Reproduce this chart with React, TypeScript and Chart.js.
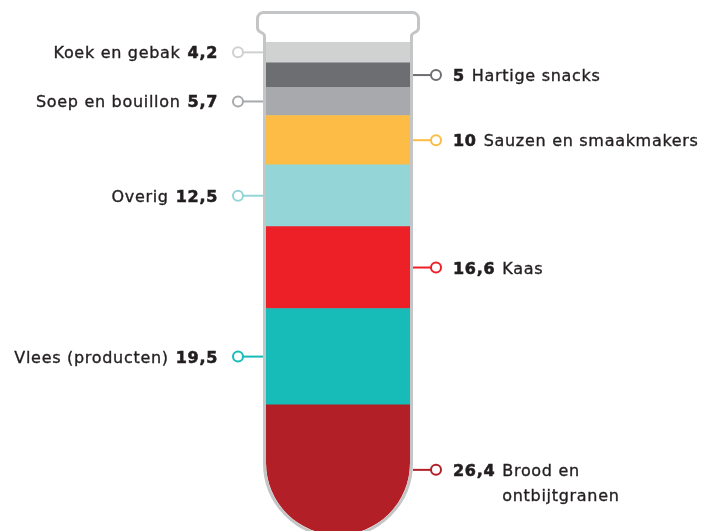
import React, { useEffect, useRef } from "react";
import { Chart, registerables } from "chart.js";

Chart.register(...registerables);

// Stack order: bottom to top
const groups = [
  "Brood en ontbijtgranen",
  "Vlees (producten)",
  "Kaas",
  "Overig",
  "Sauzen en smaakmakers",
  "Soep en bouillon",
  "Hartige snacks",
  "Koek en gebak",
];
const values = [26.4, 19.5, 16.6, 12.5, 10, 5.7, 5, 4.2];
const valueLabels = ["26,4", "19,5", "16,6", "12,5", "10", "5,7", "5", "4,2"];
const labelLines = [
  ["Brood en", "ontbijtgranen"],
  ["Vlees (producten)"],
  ["Kaas"],
  ["Overig"],
  ["Sauzen en smaakmakers"],
  ["Soep en bouillon"],
  ["Hartige snacks"],
  ["Koek en gebak"],
];
const sides = ["right", "left", "right", "left", "right", "left", "right", "left"];
const colors = [
  "#b31f26",
  "#17bbb8",
  "#ed1f27",
  "#94d5d7",
  "#fcbc45",
  "#a7a9ac",
  "#6d6e71",
  "#d0d1d1",
];
const lineColors = [
  "#b31f26",
  "#17bbb8",
  "#ed1f27",
  "#94d5d7",
  "#fcbc45",
  "#a7a9ac",
  "#6d6e71",
  "#cfd0d0",
];

const OUTLINE = "#c4c5c7";
const TEXT = "#231f20";
const FONT_FAMILY = "'DejaVu Sans', sans-serif";

function tubeGeom(chart: any) {
  const first = chart.getDatasetMeta(0).data[0] as any;
  const last = chart.getDatasetMeta(values.length - 1).data[0] as any;
  const w = first.width;
  const L = first.x - w / 2;
  const R = first.x + w / 2;
  const base = first.base;
  const top = last.y;
  const r = w / 2;
  return { L, R, base, top, r, cx: first.x };
}

const tubeClip = {
  id: "tubeClip",
  beforeDatasetsDraw(chart: any) {
    const { ctx } = chart;
    const g = tubeGeom(chart);
    ctx.save();
    ctx.beginPath();
    ctx.moveTo(g.L, g.top - 10);
    ctx.lineTo(g.R, g.top - 10);
    ctx.lineTo(g.R, g.base - g.r);
    ctx.arc(g.cx, g.base - g.r, g.r, 0, Math.PI, false);
    ctx.closePath();
    ctx.clip();
  },
  afterDatasetsDraw(chart: any) {
    const { ctx } = chart;
    ctx.restore();
    const g = tubeGeom(chart);
    const wl = g.L - 1.5;
    const wr = g.R + 1.5;
    const capL = wl - 7;
    const capR = wr + 7;
    const capTop = g.top - 29.5;
    const cr = 6;
    ctx.save();
    ctx.strokeStyle = OUTLINE;
    ctx.lineWidth = 3;
    ctx.lineJoin = "round";
    ctx.beginPath();
    ctx.moveTo(wl, g.base - g.r);
    ctx.lineTo(wl, g.top - 6);
    ctx.bezierCurveTo(wl, g.top - 10, capL, g.top - 9, capL, g.top - 14);
    ctx.lineTo(capL, capTop + cr);
    ctx.arcTo(capL, capTop, capL + cr, capTop, cr);
    ctx.lineTo(capR - cr, capTop);
    ctx.arcTo(capR, capTop, capR, capTop + cr, cr);
    ctx.lineTo(capR, g.top - 14);
    ctx.bezierCurveTo(capR, g.top - 9, wr, g.top - 10, wr, g.top - 6);
    ctx.lineTo(wr, g.base - g.r);
    ctx.arc(g.cx, g.base - g.r, g.r + 1.5, 0, Math.PI, false);
    ctx.closePath();
    ctx.stroke();
    ctx.restore();
  },
};

function drawText(ctx: CanvasRenderingContext2D, text: string, x: number, y: number, weight: number) {
  ctx.fillText(text, x, y);
  if (weight > 0) {
    ctx.lineWidth = weight;
    ctx.strokeStyle = TEXT;
    ctx.strokeText(text, x, y);
  }
}

const labelsPlugin = {
  id: "tubeLabels",
  afterDraw(chart: any) {
    const { ctx } = chart;
    const g = tubeGeom(chart);
    ctx.save();
    (ctx as any).letterSpacing = "0.7px";
    values.forEach((_, i) => {
      const bar = chart.getDatasetMeta(i).data[0] as any;
      const cy = (bar.y + bar.base) / 2;
      const left = sides[i] === "left";
      const cx = left ? g.L - 28 : g.R + 26;
      const edge = left ? g.L - 3 : g.R + 3;
      ctx.strokeStyle = lineColors[i];
      ctx.lineWidth = 2;
      ctx.beginPath();
      ctx.moveTo(edge, cy);
      ctx.lineTo(left ? cx + 5 : cx - 5, cy);
      ctx.stroke();
      ctx.beginPath();
      ctx.arc(cx, cy, 5, 0, Math.PI * 2);
      ctx.fillStyle = "#fff";
      ctx.fill();
      ctx.stroke();

      const baseY = cy + 6;
      const gap = 7;
      ctx.fillStyle = TEXT;
      ctx.textBaseline = "alphabetic";
      const boldFont = `bold 16px ${FONT_FAMILY}`;
      const regFont = `16px ${FONT_FAMILY}`;
      ctx.font = boldFont;
      const vw = ctx.measureText(valueLabels[i]).width;
      if (left) {
        const xr = g.L - 48;
        ctx.textAlign = "right";
        ctx.font = boldFont;
        drawText(ctx, valueLabels[i], xr, baseY, 0.6);
        ctx.font = regFont;
        drawText(ctx, labelLines[i][0], xr - vw - gap, baseY, 0.35);
      } else {
        const xl = g.R + 43;
        ctx.textAlign = "left";
        ctx.font = boldFont;
        drawText(ctx, valueLabels[i], xl, baseY, 0.6);
        ctx.font = regFont;
        labelLines[i].forEach((line, k) => {
          drawText(ctx, line, xl + vw + gap, baseY + k * 25, 0.35);
        });
      }
    });
    ctx.restore();
  },
};

export default function App() {
  const ref = useRef<HTMLCanvasElement | null>(null);
  useEffect(() => {
    if (!ref.current) return;
    const total = values.reduce((a, b) => a + b, 0);
    const chart = new Chart(ref.current, {
      type: "bar",
      data: {
        labels: ["Tube"],
        datasets: values.map((v, i) => ({
          label: groups[i],
          data: [v],
          backgroundColor: colors[i],
          borderWidth: 0,
          borderRadius: 0,
          barThickness: 144,
        })),
      },
      options: {
        responsive: false,
        animation: false,
        devicePixelRatio: 1,
        layout: { padding: { top: 42, bottom: 5, left: 0, right: 45 } },
        scales: {
          x: { stacked: true, display: false },
          y: { stacked: true, display: false, min: 0, max: total },
        },
        plugins: {
          legend: { display: false },
          tooltip: { enabled: false },
        },
      },
      plugins: [tubeClip, labelsPlugin],
    });
    return () => chart.destroy();
  }, []);
  return (
    <div
      style={{
        position: "absolute",
        left: 0,
        top: 0,
        width: 721,
        height: 531,
        overflow: "hidden",
        background: "#fff",
      }}
    >
      <canvas ref={ref} width={721} height={540} style={{ display: "block" }} />
    </div>
  );
}
